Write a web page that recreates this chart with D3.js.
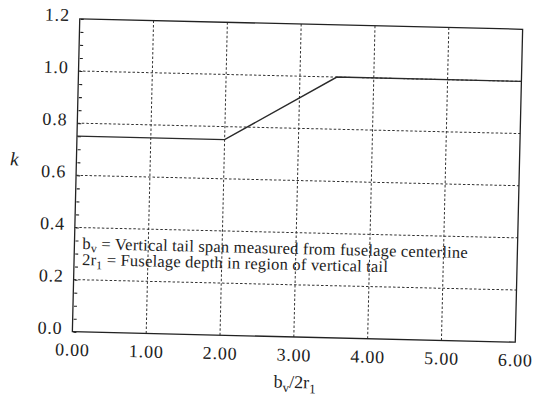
<!DOCTYPE html>
<html>
<head>
<meta charset="utf-8">
<script src="https://cdn.jsdelivr.net/npm/d3@7/dist/d3.min.js"></script>
<style>
  html, body { margin: 0; padding: 0; background: #fff; }
  svg { display: block; }
</style>
</head>
<body>
<svg id="chart" width="536" height="400"></svg>
<script>
// Tail span ratio b_v / 2r_1 (x) and factor k (y)
const spanRatio = [0.0, 2.0, 3.5, 6.0];
const kFactor   = [0.75, 0.75, 1.0, 1.0];

const xTickValues = [0, 1, 2, 3, 4, 5, 6];
const xTickLabels = ["0.00", "1.00", "2.00", "3.00", "4.00", "5.00", "6.00"];
const yTickValues = [0, 0.2, 0.4, 0.6, 0.8, 1.0, 1.2];
const yTickLabels = ["0.0", "0.2", "0.4", "0.6", "0.8", "1.0", "1.2"];
const yMinorTicks = d3.range(0, 1.2001, 0.05);
const xGrid = [1, 2, 3, 4, 5];
const yGrid = [0.2, 0.4, 0.6, 0.8, 1.0];

const SERIF = "'Liberation Serif', 'Times New Roman', serif";
const INK = "#222";

const plot = { left: 76, right: 519, top: 24, bottom: 337 };
const cx = (plot.left + plot.right) / 2, cy = (plot.top + plot.bottom) / 2;

const svg = d3.select("#chart");
const g = svg.append("g").attr("transform", `rotate(1.35, ${cx}, ${cy})`);

const x = d3.scaleLinear().domain([0, 6]).range([plot.left, plot.right]);
const y = d3.scaleLinear().domain([0, 1.2]).range([plot.bottom, plot.top]);

// dotted grid
const grid = g.append("g")
  .attr("stroke", "#333").attr("stroke-width", 1)
  .attr("stroke-dasharray", "2.5,2");
grid.selectAll("line.v").data(xGrid).join("line").attr("class", "v")
  .attr("x1", d => x(d)).attr("x2", d => x(d))
  .attr("y1", y(0)).attr("y2", y(1.2));
grid.selectAll("line.h").data(yGrid).join("line").attr("class", "h")
  .attr("x1", x(0)).attr("x2", x(6))
  .attr("y1", d => y(d)).attr("y2", d => y(d));

// minor ticks on the left axis, pointing inward
const minorAxis = d3.axisLeft(y).tickValues(yMinorTicks).tickSize(-4).tickFormat("");
const minor = g.append("g").attr("transform", `translate(${plot.left},0)`).call(minorAxis);
minor.select(".domain").remove();
minor.selectAll(".tick line").attr("stroke", INK).attr("stroke-width", 1.1).attr("x1", 1);

// y tick labels
const yAxis = d3.axisLeft(y).tickValues(yTickValues)
  .tickFormat((d, i) => yTickLabels[i]).tickSize(0).tickPadding(10);
const ya = g.append("g").attr("transform", `translate(${plot.left},0)`).call(yAxis);
ya.select(".domain").remove();
ya.selectAll(".tick text")
  .attr("dy", null).attr("y", 2)
  .style("font-family", SERIF).style("font-size", "18px")
  .style("letter-spacing", "0.8px").style("fill", INK);

// x tick labels
const xAxis = d3.axisBottom(x).tickValues(xTickValues)
  .tickFormat((d, i) => xTickLabels[i]).tickSize(0);
const xa = g.append("g").attr("transform", `translate(0,${plot.bottom})`).call(xAxis);
xa.select(".domain").remove();
xa.selectAll(".tick text")
  .attr("dy", null).attr("y", 24)
  .style("font-family", SERIF).style("font-size", "18px")
  .style("letter-spacing", "0.8px").style("fill", INK);

// frame
g.append("rect")
  .attr("x", plot.left).attr("y", plot.top)
  .attr("width", plot.right - plot.left).attr("height", plot.bottom - plot.top)
  .attr("fill", "none").attr("stroke", INK).attr("stroke-width", 1.3);

// k curve
const pts = spanRatio.map((r, i) => [r, kFactor[i]]);
g.append("path")
  .datum(pts)
  .attr("fill", "none").attr("stroke", "#2a2a2a").attr("stroke-width", 1.4)
  .attr("d", d3.line().x(d => x(d[0])).y(d => y(d[1])));

// axis titles
g.append("text")
  .attr("x", 14).attr("y", 172).attr("text-anchor", "middle")
  .style("font-family", SERIF).style("font-size", "19px").style("font-style", "italic")
  .style("fill", INK).text("k");

const xt = g.append("text")
  .attr("x", (plot.left + plot.right) / 2 + 2).attr("y", 388)
  .attr("text-anchor", "middle")
  .style("font-family", SERIF).style("font-size", "18px").style("fill", INK);
xt.append("tspan").text("b");
xt.append("tspan").style("font-size", "13px").attr("dy", 4).text("v");
xt.append("tspan").attr("dy", -4).text("/2r");
xt.append("tspan").style("font-size", "13px").attr("dy", 5).text("1");

// definitions note
const note1 = g.append("text").attr("x", 84).attr("y", 254)
  .style("font-family", SERIF).style("font-size", "16.5px")
  .style("letter-spacing", "0.2px").style("fill", INK);
note1.append("tspan").text("b");
note1.append("tspan").style("font-size", "12px").attr("dy", 3).text("v");
note1.append("tspan").attr("dy", -3).text(" = Vertical tail span measured from fuselage centerline");

const note2 = g.append("text").attr("x", 84).attr("y", 270)
  .style("font-family", SERIF).style("font-size", "16.5px")
  .style("letter-spacing", "0.2px").style("fill", INK);
note2.append("tspan").text("2r");
note2.append("tspan").style("font-size", "12px").attr("dy", 4).text("1");
note2.append("tspan").attr("dy", -4).text(" = Fuselage depth in region of vertical tail");
</script>
</body>
</html>
